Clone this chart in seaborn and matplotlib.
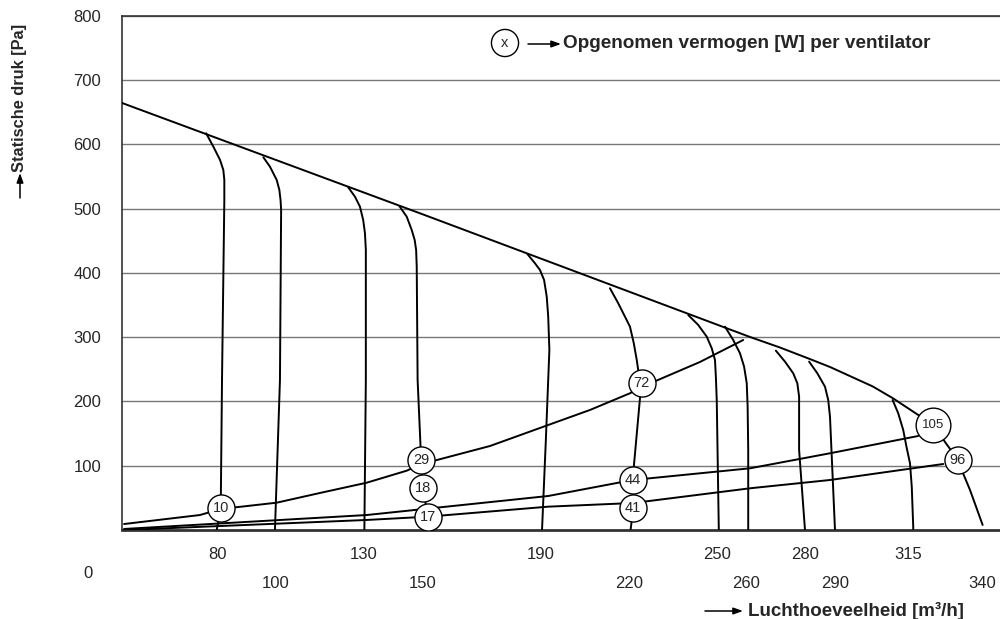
import numpy as np
import pandas as pd
import matplotlib
matplotlib.use('Agg')
import matplotlib.pyplot as plt
from matplotlib.patches import FancyArrowPatch
import seaborn as sns

# begrenzing ventilatorkarakteristiek (max toerental)
env_x = [47.7, 150.0, 261.2, 271.4, 281.6, 288.5, 295.2, 302.9, 309.8, 318.4, 323.4,
         327.5, 331.9, 333.6, 336.0, 340.3]
env_y = [664.6, 491.2, 300.4, 284.0, 266.0, 253.5, 239.5, 223.5, 205.0, 179.0, 163.4,
         137.0, 109.0, 88.7, 62.3, 7.8]

# lijnen per luchthoeveelheid (x, y)
iso_80_x = [76.3, 78.76, 81.03, 82.15, 82.49, 82.49, 81.7, 81.27, 79.9]
iso_80_y = [617.4, 596.6, 575.9, 560.3, 544.7, 513.6, 233.5, 34.2, 0]
iso_100_x = [95.75, 98.0, 100.3, 101.2, 101.6, 101.8, 101.4, 99.7]
iso_100_y = [580.1, 565.5, 544.7, 529.2, 513.6, 498.1, 233.5, 0]
iso_130_x = [124.6, 126.9, 128.6, 129.7, 130.3, 130.6, 130.6, 130.1]
iso_130_y = [533.4, 518.8, 503.2, 482.5, 461.8, 435.8, 233.5, 0]
iso_150_x = [141.97, 144.5, 146.2, 147.2, 147.7, 147.9, 148.2, 149.4, 150.1, 151.6, 152.1]
iso_150_y = [504.3, 487.6, 466.9, 451.4, 435.8, 409.8, 233.5, 109.0, 64.9, 20.7, 0]
iso_190_x = [185.5, 188.1, 189.8, 191.2, 192.1, 192.6, 193.0, 191.8, 190.5]
iso_190_y = [429.6, 415.1, 404.7, 389.1, 363.1, 332.0, 280.2, 140.0, 0]
iso_220_x = [213.6, 216.4, 218.7, 220.4, 221.7, 222.7, 223.2, 224.4, 223.8, 221.3, 221.5, 220.6]
iso_220_y = [376.2, 352.9, 332.0, 316.4, 290.6, 264.6, 249.0, 228.3, 205.0, 77.8, 33.8, 0]
iso_250_x = [240.2, 243.6, 246.5, 248.2, 249.3, 249.6, 249.9, 250.6]
iso_250_y = [334.6, 319.1, 300.9, 282.8, 264.6, 238.6, 202.3, 0]
iso_260_x = [252.7, 255.5, 257.8, 259.2, 260.1, 260.4, 260.6, 260.6]
iso_260_y = [316.4, 295.7, 275.0, 254.2, 228.3, 191.9, 124.5, 0]
iso_280_x = [270.0, 273.1, 275.9, 277.3, 277.9, 277.9, 279.9]
iso_280_y = [279.1, 262.0, 243.9, 228.3, 207.5, 124.5, 0]
iso_290_x = [281.3, 284.1, 286.7, 287.8, 288.4, 288.9, 290.1]
iso_290_y = [262.0, 243.9, 223.0, 202.3, 176.3, 124.5, 0]
iso_315_x = [309.7, 311.6, 313.3, 314.4, 315.6, 316.2, 316.7, 316.7]
iso_315_y = [202.3, 181.6, 155.6, 129.6, 103.8, 67.4, 5.1, 0]

# systeemlijnen
sysA_x = [48.4, 74.2, 81.3, 100.3, 115.0, 130.9, 144.5, 149.4, 153.5, 172.8,
          192.6, 206.8, 220.4, 224.4, 244.2, 258.9]
sysA_y = [9.3, 23.3, 32.7, 42.5, 57.6, 73.6, 92.3, 102.7, 107.4, 130.7,
          163.4, 186.8, 212.8, 222.6, 261.5, 295.7]
sysB_x = [48.4, 130.9, 192.6, 221.3, 261.2, 288.4, 318.4]
sysB_y = [1.6, 23.3, 52.9, 77.8, 96.0, 119.4, 146.3]
sysC_x = [48.4, 130.9, 151.6, 192.6, 221.5, 261.2, 288.4, 326.9]
sysC_y = [0.0, 15.6, 20.7, 36.3, 42.0, 64.9, 77.8, 102.7]

# opgenomen vermogen [W]
pw_x = [81.3, 149.4, 150.1, 151.6, 224.4, 221.3, 221.5, 331.9]
pw_y = [34.2, 109.0, 64.9, 20.7, 228.3, 77.8, 33.8, 109.0]
pw_lab = ['10', '29', '18', '17', '72', '44', '41', '96']
big_x, big_y, big_lab = 323.4, 163.4, '105'

xt_top = [80, 130, 190, 250, 280, 315]
xt_bot = [100, 150, 220, 260, 290, 340]
yt = [100, 200, 300, 400, 500, 600, 700, 800]

sns.set_style('white')
plt.rcParams['font.family'] = ['Liberation Sans', 'DejaVu Sans']

fig = plt.figure(figsize=(10, 6.19), dpi=100)
ax = fig.add_axes([0.122, 0.1438, 0.878, 0.8304])

for v in yt:
    ax.axhline(v, color='#777777', lw=1.0, zorder=1)

lines = [(env_x, env_y), (iso_80_x, iso_80_y), (iso_100_x, iso_100_y),
         (iso_130_x, iso_130_y), (iso_150_x, iso_150_y), (iso_190_x, iso_190_y),
         (iso_220_x, iso_220_y), (iso_250_x, iso_250_y), (iso_260_x, iso_260_y),
         (iso_280_x, iso_280_y), (iso_290_x, iso_290_y), (iso_315_x, iso_315_y),
         (sysA_x, sysA_y), (sysB_x, sysB_y), (sysC_x, sysC_y)]
for lx, ly in lines:
    d = pd.DataFrame({'q': lx, 'p': ly})
    sns.lineplot(data=d, x='q', y='p', sort=False, estimator=None,
                 color='black', lw=1.4, ax=ax, zorder=3)

pw = pd.DataFrame({'q': pw_x, 'p': pw_y})
sns.scatterplot(data=pw, x='q', y='p', s=19.5 ** 2, marker='o', color='white',
                edgecolor='black', linewidth=1.0, ax=ax, zorder=5)
sns.scatterplot(x=[big_x], y=[big_y], s=25 ** 2, marker='o', color='white',
                edgecolor='black', linewidth=1.0, ax=ax, zorder=5)
for x, y, t in zip(pw_x, pw_y, pw_lab):
    ax.text(x, y, t, ha='center', va='center', fontsize=10.5, zorder=6)
ax.text(big_x, big_y, big_lab, ha='center', va='center', fontsize=9.5, zorder=6)

ax.set_xlim(47.7, 346.2)
ax.set_ylim(0, 800)
ax.set_yticks(yt)
ax.set_yticklabels([str(v) for v in yt], fontsize=12)
ax.set_xticks(xt_top)
ax.set_xticklabels([str(v) for v in xt_top], fontsize=12)
ax.set_xticks(xt_bot, minor=True)
ax.set_xticklabels([str(v) for v in xt_bot], minor=True, fontsize=12)
ax.tick_params(axis='y', length=0, pad=15)
ax.tick_params(axis='x', which='major', length=0, pad=12)
ax.tick_params(axis='x', which='minor', length=0, pad=33)
ax.set_xlabel('')
ax.set_ylabel('')

for s in ['left', 'top', 'bottom']:
    ax.spines[s].set_color('#333333')
    ax.spines[s].set_linewidth(1.2)
ax.spines['bottom'].set_linewidth(2.0)
ax.spines['right'].set_visible(False)

fig.text(88 / 1000, 1 - 573 / 619, '0', ha='center', va='center', fontsize=12)

arrow = dict(arrowstyle='-|>,head_length=0.7,head_width=0.25', color='black', lw=1.1,
             shrinkA=0, shrinkB=0, mutation_scale=8, transform=fig.transFigure)

# legenda
fig.text(505 / 1000, 1 - 43 / 619, 'x', ha='center', va='center', fontsize=10.5,
         bbox=dict(boxstyle='circle,pad=0.45', fc='white', ec='black', lw=1.0))
fig.add_artist(FancyArrowPatch((528 / 1000, 1 - 44 / 619), (561 / 1000, 1 - 44 / 619), **arrow))
fig.text(563 / 1000, 1 - 44 / 619, 'Opgenomen vermogen [W] per ventilator',
         ha='left', va='center', fontsize=13.7, fontweight='bold')

fig.add_artist(FancyArrowPatch((705 / 1000, 1 - 611 / 619), (743 / 1000, 1 - 611 / 619), **arrow))
fig.text(748 / 1000, 1 - 611 / 619, 'Luchthoeveelheid [m\u00b3/h]',
         ha='left', va='center', fontsize=13.5, fontweight='bold')

fig.add_artist(FancyArrowPatch((20 / 1000, 1 - 198 / 619), (20 / 1000, 1 - 173 / 619), **arrow))
fig.text(20 / 1000, 1 - 172 / 619, 'Statische druk [Pa]', rotation=90,
         ha='center', va='bottom', fontsize=11.8, fontweight='bold')

fig.savefig('out.png', dpi=100)
